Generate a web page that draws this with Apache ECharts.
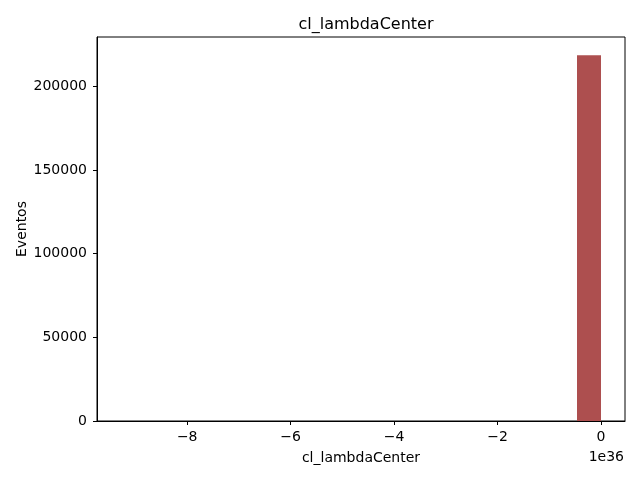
<!DOCTYPE html>
<html>
<head>
<meta charset="utf-8">
<script src="https://cdn.jsdelivr.net/npm/echarts@6/dist/echarts.min.js"></script>
<style>
	html, body { margin: 0; padding: 0; background: #fff; }
	#histogram { width: 640px; height: 480px; }
</style>
</head>
<body>
<div id="histogram"></div>
<script>
	// histogram of cl_lambdaCenter, x in units of 1e36
	var binStart = -9.28;
	var binWidth = 0.464;
	var counts = [1, 0, 0, 0, 0, 0, 0, 0, 0, 0, 0, 0, 0, 0, 0, 0, 0, 0, 0, 218500];
	var xTicks = [-8, -6, -4, -2, 0];
	var yTicks = [0, 50000, 100000, 150000, 200000];

	var bins = [];
	for(var i = 0; i < counts.length; i++) {
		bins.push([binStart + i * binWidth, binStart + (i + 1) * binWidth, counts[i]]);
	}

	function minus(v) {
		return String(v).replace('-', '\u2212');
	}

	var font = 'DejaVu Sans';
	var Chart = echarts.init(document.getElementById('histogram'));
	var option = {
		animation: false,
		backgroundColor: '#fff',
		textStyle: { fontFamily: font },
		title: {
			text: 'cl_lambdaCenter',
			left: 361,
			textAlign: 'center',
			top: 12,
			textStyle: { fontFamily: font, fontSize: 16, fontWeight: 'normal', color: '#000' }
		},
		grid: {
			left: 97,
			right: 15,
			top: 37,
			bottom: 59,
			show: true,
			borderColor: '#000',
			borderWidth: 1
		},
		xAxis: {
			type: 'value',
			min: -9.744,
			max: 0.464,
			splitLine: { show: false },
			axisLine: { show: true, onZero: false, lineStyle: { color: '#000' } },
			axisTick: { show: true, length: 4, customValues: xTicks, lineStyle: { color: '#000' } },
			axisLabel: {
				customValues: xTicks,
				color: '#000',
				fontSize: 14,
				margin: 9,
				formatter: minus
			},
			name: 'cl_lambdaCenter',
			nameLocation: 'middle',
			nameGap: 30,
			nameMoveOverlap: false,
			nameTextStyle: { color: '#000', fontSize: 14, fontFamily: font }
		},
		yAxis: {
			type: 'value',
			min: 0,
			max: 229425,
			splitLine: { show: false },
			axisLine: { show: true, onZero: false, lineStyle: { color: '#000' } },
			axisTick: { show: true, length: 4, customValues: yTicks, lineStyle: { color: '#000' } },
			axisLabel: {
				customValues: yTicks,
				color: '#000',
				fontSize: 14,
				margin: 10,
				formatter: function(v) { return String(v); }
			},
			name: 'Eventos',
			nameLocation: 'middle',
			nameGap: 68,
			nameMoveOverlap: false,
			nameTextStyle: { color: '#000', fontSize: 14, fontFamily: font }
		},
		graphic: [{
			type: 'text',
			right: 16,
			top: 450,
			style: { text: '1e36', fill: '#000', font: '14px "DejaVu Sans"' }
		}],
		series: [{
			type: 'custom',
			data: bins,
			encode: { x: [0, 1], y: 2 },
			renderItem: function(params, api) {
				var p0 = api.coord([api.value(0), 0]);
				var p1 = api.coord([api.value(1), api.value(2)]);
				return {
					type: 'rect',
					shape: { x: p0[0], y: p1[1], width: p1[0] - p0[0], height: p0[1] - p1[1] },
					style: { fill: '#ad4f4f' }
				};
			}
		}]
	};
	Chart.setOption(option);
</script>
</body>
</html>
